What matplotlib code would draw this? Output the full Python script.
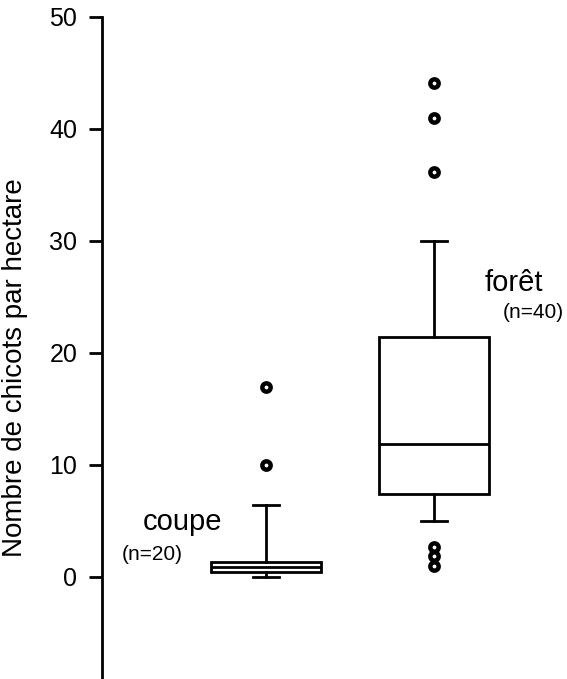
import matplotlib
matplotlib.use("Agg")
import matplotlib.pyplot as plt

plt.rcParams['font.family'] = ['Liberation Sans', 'DejaVu Sans']

groups = ["coupe", "forêt"]
n_labels = ["(n=20)", "(n=40)"]
whislo = [0.0, 5.0]
q1 = [0.45, 7.4]
med = [0.9, 11.9]
q3 = [1.35, 21.4]
whishi = [6.4, 30.0]
outliers = [[10.0, 17.0], [1.0, 1.9, 2.7, 36.2, 41.0, 44.1]]
yticks = [0, 10, 20, 30, 40, 50]
ylabel = "Nombre de chicots par hectare"

W, H = 567, 679
fig = plt.figure(figsize=(W / 100, H / 100), dpi=100)
ax = fig.add_axes([102 / W, 0, 1 - 102 / W, (H - 17) / H])

stats = []
for i, g in enumerate(groups):
    stats.append(dict(label=g, whislo=whislo[i], q1=q1[i], med=med[i], q3=q3[i],
                      whishi=whishi[i], fliers=outliers[i]))

lw = 2.0
ax.bxp(stats, positions=[1, 2], widths=0.655, patch_artist=True,
       boxprops=dict(facecolor='white', edgecolor='black', linewidth=lw),
       medianprops=dict(color='black', linewidth=lw),
       whiskerprops=dict(color='black', linewidth=lw),
       capprops=dict(color='black', linewidth=lw),
       capwidths=0.155,
       flierprops=dict(marker='o', markersize=6, markerfacecolor='white',
                       markeredgecolor='black', markeredgewidth=3.2))

ax.set_xlim(1 - 164 / 168, 1 + (W - 266) / 168)
ax.set_ylim(50 - 662 / 11.2, 50)
ax.set_yticks(yticks)
ax.set_yticklabels([str(t) for t in yticks], fontsize=18)
ax.tick_params(axis='y', direction='out', length=9.4, width=lw, pad=8.5)
ax.set_xticks([])
for s in ['top', 'right', 'bottom']:
    ax.spines[s].set_visible(False)
ax.spines['left'].set_linewidth(lw)
ax.patch.set_visible(False)

# group labels
ax.text(1 - 83 / 168, (577 - 522) / 11.2, groups[0], fontsize=21, ha='center', va='center')
ax.text(1 - 114 / 168, (577 - 555) / 11.2, n_labels[0], fontsize=15, ha='center', va='center')
ax.text(2 + 80 / 168, (577 - 283) / 11.2, groups[1], fontsize=21, ha='center', va='center')
ax.text(2 + 99 / 168, (577 - 313) / 11.2, n_labels[1], fontsize=15, ha='center', va='center')

fig.text(15 / W, 1 - 368 / H, ylabel, rotation=90, fontsize=20, ha='center', va='center')

fig.savefig("out.png", dpi=100)
